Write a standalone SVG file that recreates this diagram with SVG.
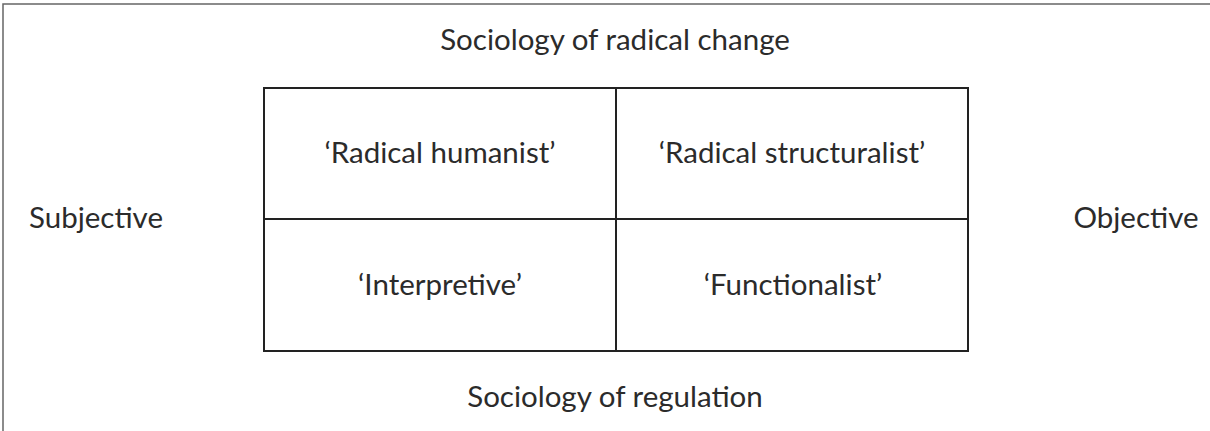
<svg xmlns="http://www.w3.org/2000/svg" width="1210" height="431" viewBox="0 0 1210 431">
<style>
text{font-family:Lato,"Open Sans",sans-serif;font-size:29.5px;fill:#2b2b2b;text-anchor:middle}
.ln{stroke:#222;stroke-width:2;fill:none}
.fr{stroke:#666;stroke-width:1.5;fill:none}
</style>
<rect width="1210" height="431" fill="#fff"/>
<path class="fr" d="M3,431 V4 H1210"/>
<g id="labels">
<text x="615" y="50">Sociology of radical change</text>
<text x="615" y="407">Sociology of regulation</text>
<text x="96" y="228">Subjective</text>
<text x="1136" y="228">Objective</text>
</g>
<g id="grid">
<rect class="ln" x="264" y="88" width="704" height="263"/>
<line class="ln" x1="616" y1="88" x2="616" y2="351"/>
<line class="ln" x1="264" y1="219" x2="968" y2="219"/>
</g>
<g id="q1"><text x="440" y="163">‘Radical humanist’</text></g>
<g id="q2"><text x="792" y="163">‘Radical structuralist’</text></g>
<g id="q3"><text x="440" y="295">‘Interpretive’</text></g>
<g id="q4"><text x="793" y="295">‘Functionalist’</text></g>
<g id="connectors"></g>
</svg>
